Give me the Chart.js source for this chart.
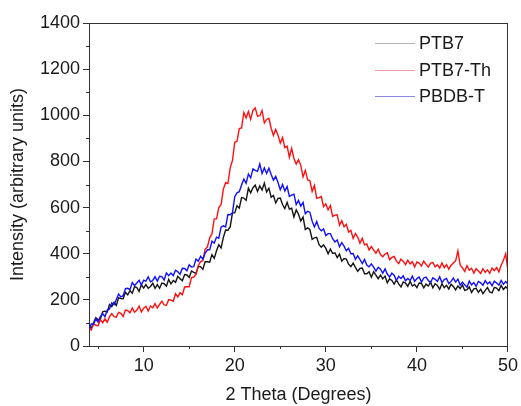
<!DOCTYPE html>
<html>
<head>
<meta charset="utf-8">
<script src="https://cdn.jsdelivr.net/npm/chart.js@4/dist/chart.umd.min.js"></script>
<style>
  html, body { margin: 0; padding: 0; background: #fff; }
  #wrap { position: relative; width: 521px; height: 406px; }
  #legend { position: absolute; left: 0; top: 0; width: 521px; height: 406px; pointer-events: none;
            font-family: "Liberation Sans", Arial, sans-serif; font-size: 18px; color: #1a1a1a; }
  .row { position: absolute; left: 375px; height: 20px; display: flex; align-items: center; }
  .sw { width: 40px; height: 0; border-top: 1px solid; margin-right: 4px; }
</style>
</head>
<body>
<div id="wrap">
  <canvas id="c" width="521" height="406"></canvas>
  <div id="legend"></div>
</div>
<script>
// Scan grid (2 Theta, degrees): first angle and sampling step
const angleStart = 4;
const angleStep = 0.25;

const seriesNames = ["PTB7", "PTB7-Th", "PBDB-T"];

const ptb7 = [
83,77,101,123,114,116,148,151,147,180,171,189,176,209,206,205,233,222,240,229,
257,253,237,265,251,266,250,258,272,250,266,250,273,270,259,289,269,284,276,302,
292,283,310,308,297,325,319,315,344,344,332,365,365,363,396,380,413,439,425,471,
503,502,516,577,577,608,598,643,641,631,684,664,686,697,670,694,676,706,668,684,
645,653,620,640,641,613,596,623,593,597,559,590,571,542,559,505,512,505,462,469,
471,440,428,438,423,400,420,401,404,383,398,368,379,377,355,344,359,341,324,336,
338,313,313,322,298,322,307,292,307,291,303,274,291,284,268,286,269,256,278,273,
259,280,260,267,253,273,271,252,268,260,276,252,270,262,246,270,253,263,247,268,
258,243,260,249,265,241,244,256,232,248,250,233,246,227,241,253,234,230,254,251,
240,263,245,257,247];

const ptb7Th = [
75,69,96,90,88,114,101,118,103,126,140,127,125,146,142,128,156,153,144,165,
147,155,173,148,164,172,151,173,166,183,165,180,194,178,177,201,199,194,226,213,
231,222,256,257,257,297,299,310,349,366,370,419,429,469,486,551,551,600,612,680,
708,704,772,804,883,887,942,945,1012,989,1016,982,1021,1032,996,998,1020,967,982,987,
944,913,939,914,879,903,860,866,818,857,813,789,808,783,733,761,720,717,670,696,
640,643,648,604,616,590,609,562,567,569,524,543,517,527,494,501,466,488,472,446,
467,438,442,416,431,416,402,419,396,387,399,404,374,384,388,368,357,376,367,353,
372,356,365,342,364,359,347,368,354,342,359,362,343,352,338,360,340,353,333,350,
360,369,412,351,339,323,348,329,337,316,335,325,314,335,319,330,315,338,327,340,
321,350,372,400,323];

const pbdbT = [
72,96,94,118,104,128,140,127,156,160,187,179,201,225,213,218,249,250,244,275,
262,273,285,264,285,281,300,278,284,300,281,302,301,286,317,305,316,305,328,322,
311,337,336,326,352,342,344,377,367,389,377,402,417,417,454,446,472,467,515,521,
516,570,569,577,647,664,669,698,723,705,745,729,768,761,757,789,748,772,748,771,
743,719,735,709,677,700,672,691,648,654,658,613,631,606,622,573,584,580,541,516,
540,511,499,507,479,487,487,465,451,460,430,448,433,413,424,400,401,376,391,375,
357,375,351,343,356,342,325,341,333,315,334,312,299,316,307,284,302,293,304,283,
293,284,303,280,292,299,277,295,299,284,275,296,289,280,300,275,288,293,271,280,
294,277,290,264,277,265,255,281,265,275,259,280,274,263,283,269,278,261,281,273,
264,284,267,279,269];

const xTickValues = [10, 20, 30, 40, 50];
const xMinorValues = [5, 15, 25, 35, 45];
const yMinorValues = [100, 300, 500, 700, 900, 1100, 1300];

const colors = ["#141414", "#ff1010", "#1010ff"];
const legendColors = ["#b4b4b4", "#f49aa8", "#8c8ce6"];

function toPoints(arr) {
  return arr.map((v, i) => ({ x: angleStart + i * angleStep, y: v }));
}

const FONT = "'Liberation Sans', Arial, sans-serif";
const AXIS = "#333333";

const framePlugin = {
  id: "frame",
  afterDraw(chart) {
    const { ctx, chartArea: a, scales } = chart;
    ctx.save();
    ctx.strokeStyle = AXIS;
    ctx.lineWidth = 1;
    ctx.beginPath();
    ctx.moveTo(a.left, a.top + 0.5); ctx.lineTo(a.right, a.top + 0.5);
    ctx.moveTo(a.right - 0.5, a.top); ctx.lineTo(a.right - 0.5, a.bottom);
    xMinorValues.forEach(v => {
      const px = Math.round(scales.x.getPixelForValue(v)) + 0.5;
      ctx.moveTo(px, a.bottom); ctx.lineTo(px, a.bottom + 3);
    });
    yMinorValues.forEach(v => {
      const py = Math.round(scales.y.getPixelForValue(v)) + 0.5;
      ctx.moveTo(a.left - 3, py); ctx.lineTo(a.left, py);
    });
    ctx.stroke();
    ctx.restore();
  }
};

const datasetsSrc = [ptb7, ptb7Th, pbdbT];
const orders = [3, 2, 1];

new Chart(document.getElementById("c"), {
  type: "line",
  data: {
    datasets: datasetsSrc.map((arr, k) => ({
      label: seriesNames[k],
      data: toPoints(arr),
      borderColor: colors[k],
      borderWidth: 1.4,
      pointRadius: 0,
      tension: 0,
      fill: false,
      order: orders[k]
    }))
  },
  options: {
    responsive: false,
    animation: false,
    layout: { padding: { top: 23, right: 11, left: 0, bottom: 0 } },
    plugins: { legend: { display: false }, tooltip: { enabled: false } },
    scales: {
      x: {
        type: "linear",
        min: 4, max: 50,
        afterBuildTicks: s => { s.ticks = xTickValues.map(v => ({ value: v })); },
        grid: { drawOnChartArea: false, tickLength: 6, color: AXIS },
        border: { color: AXIS, width: 1 },
        ticks: { color: "#1a1a1a", font: { family: FONT, size: 18 }, padding: 3, maxRotation: 0,
                 callback: v => String(v) },
        title: { display: true, text: "2 Theta (Degrees)", color: "#1a1a1a",
                 font: { family: FONT, size: 18 }, padding: { top: 2, bottom: 0 } },
        afterFit: s => { s.height = 60; }
      },
      y: {
        min: 0, max: 1400,
        ticks: { stepSize: 200, color: "#1a1a1a", font: { family: FONT, size: 18 }, padding: 3,
                 callback: v => String(v) },
        grid: { drawOnChartArea: false, tickLength: 6, color: AXIS },
        border: { color: AXIS, width: 1 },
        title: { display: true, text: "Intensity (arbitrary units)", color: "#1a1a1a",
                 font: { family: FONT, size: 18 }, padding: { top: 7, bottom: 0 } },
        afterFit: s => { s.width = 89; }
      }
    }
  },
  plugins: [framePlugin]
});

// legend (inside the plot, top right)
const leg = document.getElementById("legend");
const rowY = [33, 60, 86];
seriesNames.forEach((name, k) => {
  const r = document.createElement("div");
  r.className = "row";
  r.style.top = rowY[k] + "px";
  const sw = document.createElement("span");
  sw.className = "sw";
  sw.style.borderColor = legendColors[k];
  const t = document.createElement("span");
  t.textContent = name;
  r.appendChild(sw); r.appendChild(t);
  leg.appendChild(r);
});
</script>
</body>
</html>
